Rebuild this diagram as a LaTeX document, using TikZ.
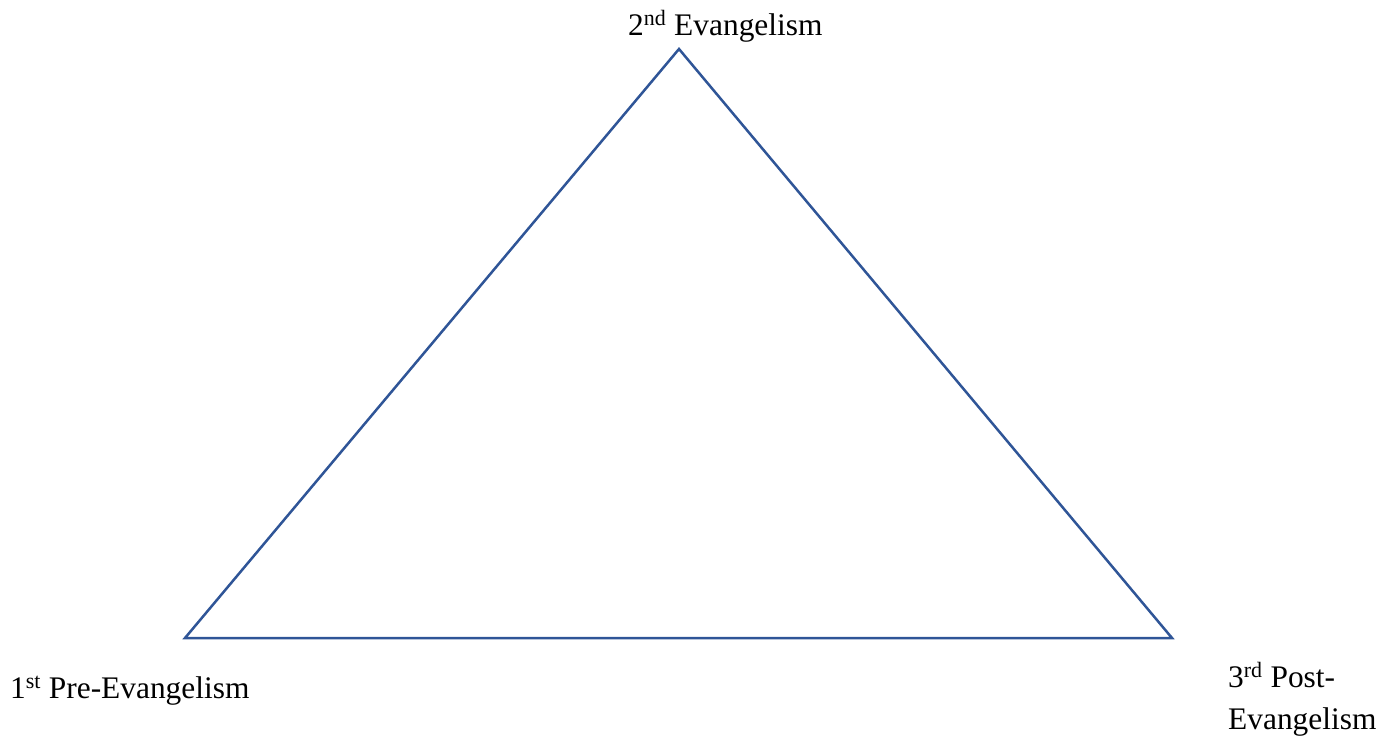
\documentclass[tikz,border=0pt]{standalone}
\usepackage{fontspec}
\setmainfont{Liberation Serif}
\definecolor{triblue}{HTML}{2F5597}
\tikzset{
  lbl/.style={anchor=base west, inner sep=0pt, font=\fontsize{31.4}{42}\selectfont},
  tri/.style={draw=triblue, line width=2.5pt, line join=miter}
}
\begin{document}
\begin{tikzpicture}[x=1pt,y=-1pt]
\useasboundingbox (0,0) rectangle (1393,745);
\coordinate (top) at (679,49);
\coordinate (bl) at (185,638);
\coordinate (br) at (1172,638);
\draw[tri] (top) -- (bl) -- (br) -- cycle;
\node[lbl] (t2) at (628,35) {2\textsuperscript{nd} Evangelism};
\node[lbl] (t1) at (10,698) {1\textsuperscript{st} Pre-Evangelism};
\node[lbl, align=left] (t3) at (1228,729) {3\textsuperscript{rd} Post-\\Evangelism};
\end{tikzpicture}
\end{document}
